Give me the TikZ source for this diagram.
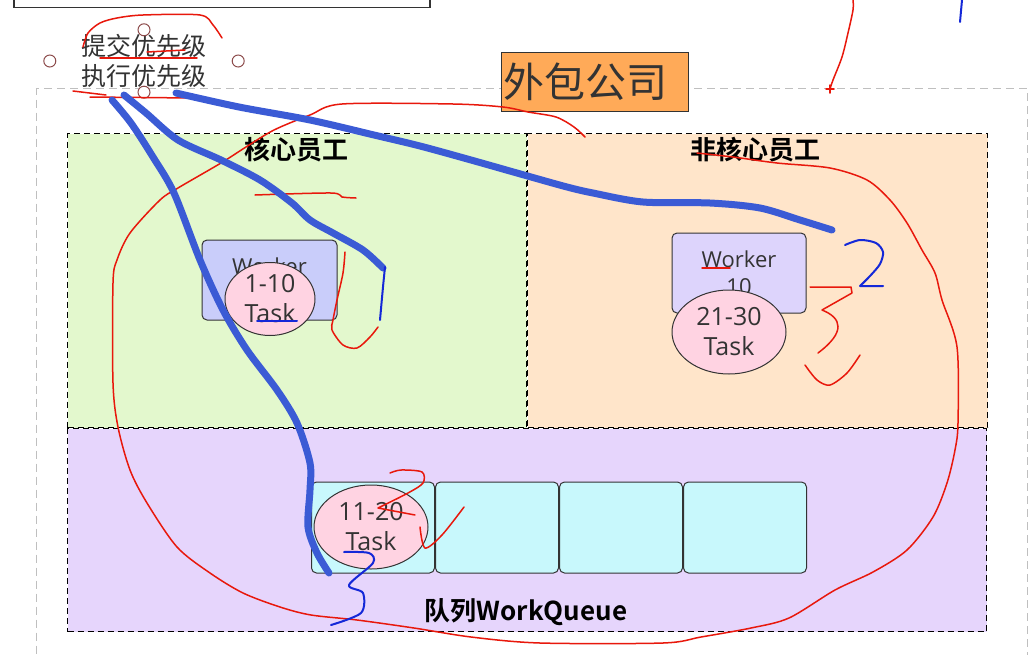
\documentclass[tikz,border=0pt]{standalone}
\usepackage{fontspec}
\setmainfont{Open Sans}
\newfontfamily\cjk{Noto Sans CJK SC}[BoldFont={Noto Sans CJK SC Bold}]
\usepackage{tikz}
\usetikzlibrary{positioning, shapes.geometric}

\definecolor{coreGreen}{HTML}{E3F8CD}
\definecolor{outPeach}{HTML}{FFE5CA}
\definecolor{queueLilac}{HTML}{E6D5FC}
\definecolor{workerBlue}{HTML}{C9CDFA}
\definecolor{workerLilac}{HTML}{DDD4FC}
\definecolor{taskPink}{HTML}{FFD3E2}
\definecolor{cellCyan}{HTML}{C8F8FC}
\definecolor{companyOrange}{HTML}{FFAA58}
\definecolor{handleBrown}{HTML}{8C4A4A}
\definecolor{inkBlue}{HTML}{3B5BD5}
\definecolor{penBlue}{HTML}{1428D8}
\definecolor{penRed}{HTML}{E8180C}
\definecolor{textGrey}{HTML}{333333}

\begin{document}
\begin{tikzpicture}[x=1pt, y=-1pt,
  region/.style = {rectangle, draw=black, dash pattern=on 6pt off 4pt, line width=1.2pt, anchor=north west, inner sep=0pt},
  title/.style = {font=\cjk\bfseries\fontsize{26}{30}\selectfont, text=black},
  worker/.style = {rectangle, rounded corners=5pt, draw=textGrey, line width=1pt, minimum width=135pt, minimum height=80pt, align=center, font=\fontsize{22}{27}\selectfont, text=textGrey},
  task/.style = {ellipse, draw=textGrey, line width=1pt, fill=taskPink, inner sep=0pt, align=center, font=\fontsize{25}{30}\selectfont, text=textGrey},
  cell/.style = {rectangle, rounded corners=5pt, draw=textGrey, line width=1pt, fill=cellCyan, minimum width=123pt, minimum height=91pt, inner sep=0pt},
  handle/.style = {circle, draw=handleBrown, fill=white, line width=1pt, minimum size=12pt, inner sep=0pt},
  thick ink/.style = {inkBlue, line width=7pt, line cap=round, line join=round},
  thin ink/.style = {penBlue, line width=2pt, line cap=round, line join=round},
  red ink/.style = {penRed, line width=1.5pt, line cap=round, line join=round}
]
\useasboundingbox (0,0) rectangle (1028,654);
\clip (0,0) rectangle (1028,654);
\fill[white] (0,0) rectangle (1028,654);

% frames
\node[draw=textGrey, line width=1.5pt, minimum width=416pt, minimum height=40pt, inner sep=0pt, anchor=south west] (topbox) at (13,8) {};
\node[draw=black!25, dash pattern=on 8pt off 5pt, line width=1.2pt, anchor=north west, minimum width=991pt, minimum height=620pt, inner sep=0pt] (outer) at (36,88) {};

\node[region, fill=coreGreen, minimum width=459pt, minimum height=294pt] (core) at (67,133) {};
\node[region, fill=outPeach, minimum width=460pt, minimum height=294pt] (outsourced) at (core.north east) {};
\node[region, fill=queueLilac, minimum width=919pt, minimum height=203pt] (queue) at (core.south west) {};

\node[title] (coreTitle) at (296,150) {核心员工};
\node[title] (outTitle) at (755,150) {非核心员工};
\node[title] (queueTitle) at (526,612) {队列WorkQueue};

\node[draw=textGrey, fill=companyOrange, line width=1pt, minimum height=59pt, text width=183pt, inner sep=2pt, align=left, font=\cjk\fontsize{41}{45}\selectfont, text=textGrey, anchor=north west] (company) at (501,52) {外包公司};

\node[font=\cjk\fontsize{25}{30}\selectfont, text=textGrey, align=left, minimum width=188pt, minimum height=62pt, inner sep=0pt] (prio) at (144,61) {提交优先级\\执行优先级};
\foreach \a in {north, south, east, west}
  \node[handle] (handle-\a) at (prio.\a) {};

% workers and tasks
\node[worker, fill=workerBlue] (workerA) at (269.5,280) {Worker\\\phantom{10}};
\node[task, minimum width=90pt, minimum height=73pt] (taskA) at (270,299) {1-10\\Task};

\node[worker, fill=workerLilac, minimum width=134pt] (workerB) at (739,273) {Worker\\10};
\node[task, minimum width=114pt, minimum height=84pt] (taskC) at (729,332) {21-30\\Task};

\node[cell] (cell1) at (373,527.5) {};
\node[cell, right=0pt of cell1] (cell2) {};
\node[cell, right=0pt of cell2] (cell3) {};
\node[cell, right=0pt of cell3] (cell4) {};
\node[task, minimum width=114pt, minimum height=84pt] (taskB) at (371,527) {11-20\\Task};

% red pen
\draw[red ink] plot[smooth] coordinates {(83,47) (88,33) (100,23) (117,18) (143,15) (200,15) (213,25) (222,38)};
\draw[red ink] (100,58) -- (197,58);
\draw[red ink] (147,52) -- (185,50);
\draw[red ink] (73,91) -- (106,95);
\draw[red ink] (90,97) -- (193,98);
\draw[red ink] plot[smooth, tension=0.5] coordinates {(585,137) (574,127) (556,117) (528,112) (503,107) (453,104) (342,104) (310,115) (274,130) (246,147) (221,163) (178,188) (160,200) (130,233) (117,260) (113,283) (113,383) (118,427) (130,470) (147,503) (177,547) (210,573) (243,593) (280,607) (311,615) (357,620) (414,628) (471,637) (540,643) (663,643) (701,637) (751,628) (789,618) (835,590) (873,572) (907,550) (933,517) (947,483) (955,450) (958,423) (957,347) (942,300) (935,273) (922,250) (907,223) (890,200) (867,180) (830,168) (777,163) (733,157) (697,153)};
\draw[red ink] plot[smooth] coordinates {(255,195) (331,193) (342,197) (356,198)};
\draw[red ink] plot[smooth] coordinates {(345,252) (343,273) (337,300) (333,320) (332,330) (343,345) (357,348) (370,337) (378,327)};
\draw[red ink] (702,268) -- (730,268);
\draw[red ink] (810,287) -- (851,287) -- (852,293) -- (822,310) .. controls (842,318) and (846,332) .. (818,353);
\draw[red ink] plot[smooth] coordinates {(805,365) (817,380) (830,385) (847,373) (860,355)};
\draw[red ink] plot[smooth] coordinates {(390,473) (401,470) (422,472) (423,483) (408,493) (378,508)} -- (415,515);
\draw[red ink] plot[smooth] coordinates {(420,527) (425,548) (442,535) (464,507)};
\draw[red ink] plot[smooth] coordinates {(853,0) (853,10) (848,33) (842,57) (833,80) (830,89)};
\draw[red ink] (826,89) -- (834,89) (830,85) -- (830,93);

% blue pen
\draw[thick ink] plot[smooth, tension=0.5] coordinates {(112,100) (131,123) (153,157) (174,193) (200,260) (223,310) (247,350) (277,390) (297,423) (310,463) (310,490) (308,527) (317,553) (329,573)};
\draw[thick ink] plot[smooth, tension=0.5] coordinates {(124,95) (146,113) (178,140) (221,160) (260,180) (292,203) (310,220) (333,233) (363,250) (383,268)};
\draw[thick ink] plot[smooth, tension=0.5] coordinates {(176,93) (239,107) (310,120) (374,135) (420,146) (471,160) (524,175) (567,187) (593,193) (643,202) (710,203) (760,208) (800,220) (832,230)};
\draw[thin ink] plot[smooth] coordinates {(385,267) (383,287) (380,320)};
\draw[thin ink] plot[smooth] coordinates {(845,245) (860,240) (876,243) (883,252) (880,264) (870,276) (860,286)} -- (883,286);
\draw[thin ink] (962,0) -- (960,22);
\draw[thin ink] plot[smooth] coordinates {(344,552) (369,553) (373,563) (349,585) (363,593) (361,613) (331,625)};
\draw[thin ink] (257,321) -- (297,321);
\end{tikzpicture}
\end{document}
